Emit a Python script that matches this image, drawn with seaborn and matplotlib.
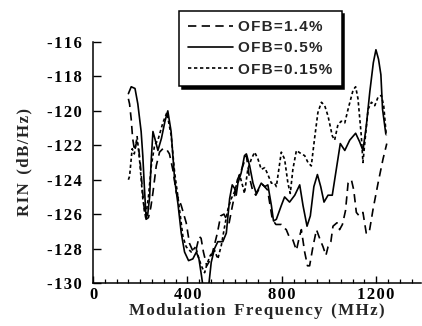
import matplotlib
matplotlib.use("Agg")
import matplotlib.pyplot as plt
from matplotlib.font_manager import FontProperties
from matplotlib.ticker import MultipleLocator
import seaborn as sns
import pandas as pd

# Relative intensity noise vs. modulation frequency for three optical feedback levels
series_labels = ["OFB=1.4%", "OFB=0.5%", "OFB=0.15%"]

freq_14 = [150, 155, 162, 168, 176, 185, 192, 200, 211, 218,
           225, 235, 245, 254, 268, 282, 296, 310, 324, 338,
           353, 374, 395, 409, 425, 438, 450, 458, 468, 482,
           495, 506, 518, 527, 541, 555, 566, 577, 591, 605,
           612, 625, 640, 650, 662, 676, 690, 705, 720, 740,
           760, 775, 789, 798, 810, 819, 831, 847, 862, 875,
           883, 897, 909, 918, 932, 947, 963, 975, 987, 996,
           1008, 1017, 1034, 1045, 1057, 1070, 1081, 1095, 1105, 1116,
           1128, 1144, 1158, 1170, 1187, 1208, 1229, 1245]
rin_14 = [-119.3, -119.6, -120.5, -121.6, -122.3, -121.8, -122.0, -123.0, -124.8, -125.8,
          -126.3, -126.2, -125.6, -124.75, -123.2, -122.4, -122.2, -122.2, -122.5, -123.4,
          -124.75, -125.5, -126.5, -127.7, -128.2, -128.0, -127.3, -127.4, -128.2, -129.0,
          -128.7, -128.25, -127.6, -127.1, -126.1, -126.0, -126.3, -126.5, -125.5, -124.6,
          -124.0, -123.6, -123.0, -122.6, -123.8, -124.6, -124.9, -124.5, -124.3, -124.6,
          -126.3, -126.6, -126.6, -126.6, -126.8, -126.9, -127.3, -127.5, -128.1, -127.3,
          -126.9, -128.2, -129.0, -129.0, -127.9, -126.9, -127.5, -127.9, -128.4, -127.9,
          -127.6, -126.7, -126.5, -126.9, -126.6, -125.8, -124.2, -124.0, -124.6, -125.9,
          -126.1, -125.9, -127.1, -127.1, -125.7, -124.2, -122.8, -121.9]

freq_05 = [150, 162, 178, 190, 197, 204, 211, 218, 225, 232,
           240, 247, 254, 262, 275, 290, 305, 317, 331, 346,
           360, 374, 388, 405, 423, 438, 449, 460, 470, 480,
           490, 501, 515, 529, 550, 565, 579, 590, 600, 607,
           614, 628, 642, 650, 664, 678, 692, 713, 728, 741,
           756, 765, 777, 798, 812, 833, 855, 876, 890, 907,
           921, 936, 951, 965, 979, 996, 1014, 1031, 1048, 1067,
           1088, 1113, 1130, 1144, 1158, 1173, 1188, 1199, 1210, 1220,
           1227, 1241]
rin_05 = [-119.0, -118.6, -118.7, -119.6, -120.4, -121.2, -122.6, -124.5, -126.2, -126.0,
          -125.0, -122.8, -121.2, -121.6, -122.3, -121.6, -120.6, -120.0, -121.2, -124.0,
          -125.4, -127.1, -128.2, -128.7, -128.6, -128.2, -128.6, -129.6, -130.6, -130.8,
          -130.2, -128.8, -128.0, -127.6, -127.6, -127.1, -125.1, -124.3, -124.5, -124.9,
          -124.2, -123.6, -122.6, -122.5, -123.2, -124.2, -124.8, -124.2, -124.4, -124.3,
          -125.5, -126.4, -126.3, -125.5, -125.0, -125.3, -124.9, -124.3, -125.5, -126.7,
          -126.1, -124.4, -123.7, -124.4, -125.3, -124.9, -124.9, -123.4, -121.9, -122.3,
          -121.7, -121.3, -121.8, -122.3, -120.9, -118.9, -117.2, -116.45, -117.0, -117.9,
          -119.9, -121.35]

freq_015 = [150, 155, 166, 175, 187, 197, 211, 223, 235, 247,
            261, 275, 296, 313, 331, 346, 360, 381, 395, 416,
            435, 445, 459, 473, 483, 497, 515, 529, 544, 558,
            572, 586, 600, 610, 621, 635, 642, 656, 671, 685,
            699, 713, 728, 741, 756, 770, 777, 798, 812, 826,
            836, 847, 862, 883, 897, 911, 925, 939, 953, 968,
            982, 996, 1014, 1024, 1038, 1052, 1067, 1081, 1102, 1113,
            1123, 1137, 1144, 1156, 1166, 1180, 1194, 1208, 1222, 1232,
            1243]
rin_015 = [-124.0, -123.8, -122.2, -122.5, -121.5, -122.8, -125.1, -126.2, -125.0, -123.2,
           -122.0, -121.7, -120.7, -120.1, -121.4, -123.6, -125.0, -127.3, -127.9, -128.2,
           -127.9, -128.4, -129.0, -129.4, -128.9, -128.4, -128.1, -128.6, -127.8, -126.7,
           -125.7, -125.1, -124.7, -124.2, -123.7, -124.4, -124.8, -123.4, -122.8, -122.4,
           -122.8, -123.4, -123.3, -123.7, -124.2, -124.2, -124.4, -122.4, -122.8, -124.2,
           -124.8, -123.4, -122.3, -122.5, -122.6, -123.0, -123.2, -121.6, -120.1, -119.5,
           -119.7, -120.3, -121.45, -121.7, -120.8, -120.6, -120.7, -119.9, -118.8, -118.6,
           -119.3, -121.45, -123.0, -121.25, -119.9, -119.5, -119.7, -119.2, -119.1, -119.7,
           -121.45]

x_ticks = [0, 400, 800, 1200]
x_tick_labels = ["0", "400", "800", "1200"]
y_ticks = [-130, -128, -126, -124, -122, -120, -118, -116]
y_tick_labels = ["-130", "-128", "-126", "-124", "-122", "-120", "-118", "-116"]

HAIR = "\u200a"


def spaced(text):
    """Open up the letter spacing a little with hair spaces."""
    return HAIR.join(text)


frames = []
for lab, f, r in zip(series_labels, [freq_14, freq_05, freq_015], [rin_14, rin_05, rin_015]):
    frames.append(pd.DataFrame({"freq": f, "rin": r, "OFB": lab}))
df = pd.concat(frames, ignore_index=True)

sns.set_style("ticks")
plt.rcParams["font.family"] = ["Liberation Serif", "DejaVu Serif"]
plt.rcParams["font.weight"] = "bold"

fig = plt.figure(figsize=(4.22, 3.26), dpi=100)
ax = fig.add_axes([93 / 422, 43 / 326, 328 / 422, 241 / 326])

dash_map = {"OFB=1.4%": (5, 3.2), "OFB=0.5%": "", "OFB=0.15%": (2.0, 1.6)}
sns.lineplot(data=df, x="freq", y="rin", style="OFB", style_order=series_labels,
             dashes=dash_map, color="black", linewidth=1.2, estimator=None,
             sort=False, ax=ax)

ax.set_xlim(0, 1390)
ax.set_ylim(-130, -116)

serif = FontProperties(family=["Liberation Serif", "DejaVu Serif"], weight="bold", size=12)
ax.set_xticks(x_ticks, labels=[spaced(t) for t in x_tick_labels])
ax.set_yticks(y_ticks, labels=[spaced(t) for t in y_tick_labels])
ax.xaxis.set_minor_locator(MultipleLocator(50))
for lbl in ax.get_xticklabels() + ax.get_yticklabels():
    lbl.set_fontproperties(serif)

ax.tick_params(axis="x", which="major", direction="in", length=5, width=1.0, pad=3, colors="black")
ax.tick_params(axis="x", which="minor", direction="in", length=3, width=0.9, colors="black")
ax.tick_params(axis="y", which="major", direction="in", length=6, width=1.0, pad=8, colors="black")

for side in ["top", "right"]:
    ax.spines[side].set_visible(False)
for side in ["left", "bottom"]:
    ax.spines[side].set_linewidth(1.1)
    ax.spines[side].set_color("black")

label_font = FontProperties(family=["Liberation Serif", "DejaVu Serif"], weight="bold", size=12.2)
ax.set_xlabel(spaced("Modulation Frequency (MHz)").replace(HAIR + " " + HAIR, "  "),
              fontproperties=label_font, va="center")
ax.xaxis.set_label_coords(0.5, -0.115)
ax.set_ylabel(spaced("RIN (dB/Hz)").replace(HAIR + " " + HAIR, "  "),
              fontproperties=label_font, va="center")
ax.yaxis.set_label_coords(-0.208, 0.5)

handles, labels = ax.get_legend_handles_labels()
for h in handles:
    h.set_color("black")
    h.set_linewidth(1.2)
legend_font = FontProperties(family=["Liberation Sans", "DejaVu Sans"], weight="bold", size=11)
leg = ax.legend(handles, [spaced(l) for l in labels], loc="upper left",
                bbox_to_anchor=(179 / 422, 1 - 11 / 326), bbox_transform=fig.transFigure,
                frameon=True, fancybox=False, framealpha=1, edgecolor="black",
                shadow={"facecolor": "black", "edgecolor": "black", "alpha": 1},
                borderaxespad=0, borderpad=0.6, handlelength=2.95, handletextpad=0.33,
                labelspacing=0.48, prop=legend_font)
leg.get_frame().set_linewidth(1.1)

fig.savefig("out.png", dpi=100)
